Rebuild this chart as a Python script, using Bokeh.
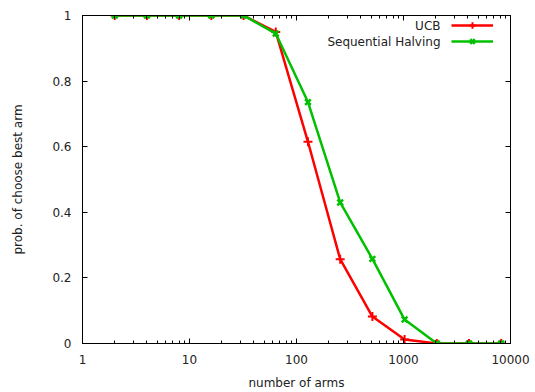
from bokeh.plotting import figure
from bokeh.models import (LogAxis, LinearAxis, FixedTicker, CustomJSTickFormatter,
                          Legend, LegendItem, Label, Range1d)
from bokeh.embed import file_html
from bokeh.resources import INLINE

arms = [2, 4, 8, 16, 32, 64, 128, 256, 512, 1024, 2048, 4096, 8192]
ucb = [1, 1, 1, 1, 1, 0.95, 0.615, 0.257, 0.082, 0.012, 0, 0, 0]
seq_halving = [1, 1, 1, 1, 1, 0.945, 0.736, 0.43, 0.258, 0.073, 0, 0, 0]
x_major = [1, 10, 100, 1000, 10000]
y_major = [0, 0.2, 0.4, 0.6, 0.8, 1]
series_names = ["UCB", "Sequential Halving"]

FONT = "DejaVu Sans"
FS = "12px"
RED = "#ff0000"
GREEN = "#00c000"

p = figure(width=535, height=392, x_axis_type="log",
           x_range=Range1d(1, 10000), y_range=Range1d(0, 1),
           output_backend="svg", toolbar_location=None,
           min_border_left=82, min_border_right=25,
           min_border_top=15, min_border_bottom=48)
p.grid.visible = False
p.outline_line_color = "black"
p.outline_line_width = 1
p.background_fill_color = "white"
p.border_fill_color = "white"

minor = [m * 10 ** d for d in range(4) for m in range(2, 10)]
xt = FixedTicker(ticks=x_major, minor_ticks=minor)
yt = FixedTicker(ticks=y_major)
xfmt = CustomJSTickFormatter(code="return String(Math.round(tick));")
yfmt = CustomJSTickFormatter(code="return String(Number(tick.toFixed(2)));")

for ax in p.xaxis:
    ax.ticker = xt
    ax.formatter = xfmt
for ax in p.yaxis:
    ax.ticker = yt
    ax.formatter = yfmt

for ax in list(p.xaxis) + list(p.yaxis):
    ax.major_tick_in = 5
    ax.major_tick_out = 0
    ax.minor_tick_in = 3
    ax.minor_tick_out = 0
    ax.axis_line_color = "black"
    ax.major_tick_line_color = "black"
    ax.minor_tick_line_color = "black"
    ax.major_label_text_font = FONT
    ax.major_label_text_font_size = FS
    ax.major_label_text_color = "#222222"
    ax.axis_label_text_font = FONT
    ax.axis_label_text_font_size = FS
    ax.axis_label_text_font_style = "normal"
    ax.axis_label_text_color = "#222222"
p.yaxis.minor_tick_line_color = None
p.xaxis.axis_label = "number of arms"
p.yaxis.axis_label = "prob. of choose best arm"
p.xaxis.major_label_standoff = 11
p.xaxis.axis_label_standoff = 9
p.yaxis.major_label_standoff = 11
p.yaxis.axis_label_standoff = 24

# mirrored ticks
top = LogAxis(ticker=xt, formatter=xfmt, major_label_text_font_size="1px",
              major_label_text_color=None, major_label_standoff=0,
              major_tick_in=5, major_tick_out=0, minor_tick_in=3, minor_tick_out=0,
              axis_line_color="black")
right = LinearAxis(ticker=yt, formatter=yfmt, major_label_text_font_size="1px",
                   major_label_text_color=None, major_label_standoff=0,
                   major_tick_in=5, major_tick_out=0, minor_tick_line_color=None,
                   axis_line_color="black")
p.add_layout(top, "above")
p.add_layout(right, "right")

l1 = p.line(arms, ucb, line_color=RED, line_width=2.5)
m1 = p.scatter(arms, ucb, marker="cross", size=9, line_color=RED, line_width=2)
l2 = p.line(arms, seq_halving, line_color=GREEN, line_width=2.5)
m2 = p.scatter(arms, seq_halving, marker="x", size=8, line_color=GREEN, line_width=2.5)

leg = Legend(items=[LegendItem(label="_", renderers=[l1, m1]),
                    LegendItem(label="_", renderers=[l2, m2])],
             location=(369, 294), margin=0, padding=0, spacing=0,
             glyph_width=42, glyph_height=16, label_height=16, label_width=1,
             label_standoff=0, border_line_color=None, background_fill_alpha=0,
             label_text_alpha=0, label_text_font_size="12px")
p.add_layout(leg, "center")

for i, name in enumerate(series_names):
    p.add_layout(Label(x=358, y=329 - 11 - 16 * i, x_units="screen", y_units="screen",
                       text=name, text_align="right", text_baseline="middle",
                       text_font=FONT, text_font_size=FS, text_color="#222222"))

open("out.html", "w").write(file_html(p, INLINE))
